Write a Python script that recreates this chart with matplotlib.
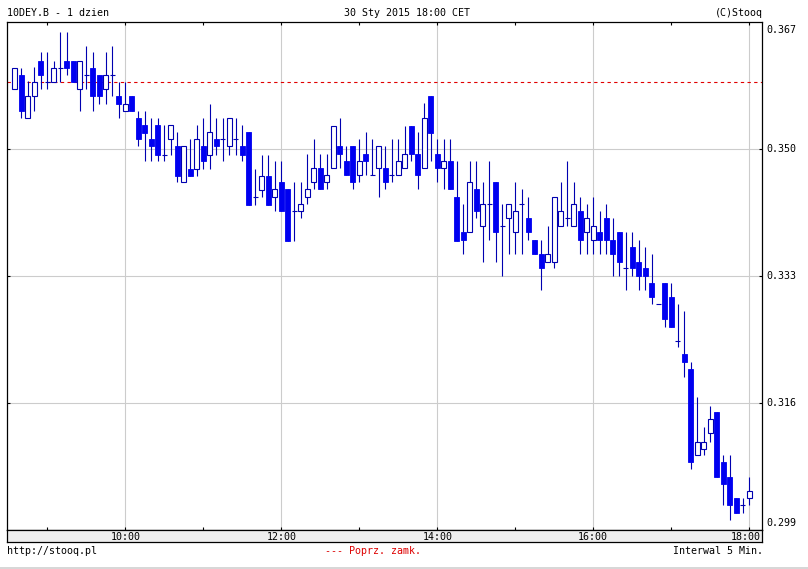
import numpy as np
import matplotlib
matplotlib.use('Agg')
import matplotlib.pyplot as plt
from matplotlib.lines import Line2D

#%% data (5 min candles, 10DEY.B, 30 Sty 2015)

start_time = '08:35'
interval_min = 5

opens = [
    .3580, .3598, .3541, .3570, .3618, .3589, .3589, .3608, .3618, .3618,
    .3580, .3598, .3608, .3598, .3580, .3598, .3570, .3551, .3570, .3541,
    .3532, .3513, .3532, .3492, .3513, .3503, .3455, .3473, .3473, .3503,
    .3492, .3513, .3513, .3503, .3513, .3503, .3522, .3435, .3445, .3464,
    .3435, .3455, .3446, .3416, .3416, .3435, .3455, .3474, .3455, .3474,
    .3503, .3483, .3503, .3465, .3493, .3465, .3474, .3474, .3465, .3465,
    .3474, .3531, .3493, .3474, .3571, .3493, .3474, .3483, .3435, .3388,
    .3388, .3446, .3397, .3426, .3455, .3397, .3407, .3388, .3426, .3407,
    .3378, .3359, .3349, .3349, .3397, .3407, .3397, .3417, .3388, .3378,
    .3388, .3407, .3378, .3388, .3340, .3368, .3349, .3340, .3320, .3292,
    .3320, .3301, .3243, .3225, .3205, .3090, .3098, .3119, .3147, .3080,
    .3061, .3032, .3023, .3032]
highs = [
    .3608, .3608, .3591, .3609, .3630, .3629, .3618, .3656, .3656, .3618,
    .3618, .3637, .3629, .3598, .3629, .3637, .3589, .3589, .3570, .3551,
    .3551, .3541, .3541, .3532, .3532, .3522, .3503, .3513, .3532, .3541,
    .3560, .3541, .3541, .3541, .3541, .3532, .3522, .3473, .3492, .3492,
    .3483, .3483, .3446, .3455, .3455, .3493, .3513, .3493, .3493, .3531,
    .3541, .3503, .3503, .3513, .3522, .3513, .3503, .3503, .3513, .3513,
    .3531, .3531, .3522, .3561, .3571, .3513, .3513, .3513, .3483, .3426,
    .3484, .3484, .3455, .3484, .3455, .3426, .3426, .3455, .3446, .3435,
    .3378, .3378, .3397, .3435, .3455, .3484, .3455, .3435, .3426, .3435,
    .3417, .3426, .3407, .3388, .3388, .3388, .3378, .3368, .3359, .3292,
    .3320, .3320, .3292, .3283, .3214, .3167, .3128, .3156, .3147, .3090,
    .3090, .3032, .3032, .3061]
lows = [
    .3580, .3541, .3541, .3551, .3580, .3580, .3589, .3589, .3598, .3589,
    .3551, .3580, .3551, .3560, .3560, .3570, .3541, .3551, .3551, .3503,
    .3483, .3483, .3483, .3483, .3492, .3455, .3455, .3464, .3464, .3473,
    .3473, .3492, .3483, .3492, .3492, .3483, .3425, .3425, .3435, .3425,
    .3416, .3416, .3377, .3377, .3407, .3426, .3446, .3446, .3446, .3474,
    .3474, .3465, .3446, .3455, .3465, .3465, .3435, .3446, .3455, .3465,
    .3474, .3483, .3446, .3474, .3483, .3455, .3446, .3446, .3377, .3359,
    .3388, .3407, .3349, .3378, .3349, .3330, .3359, .3359, .3359, .3378,
    .3359, .3311, .3349, .3340, .3397, .3397, .3397, .3359, .3359, .3359,
    .3359, .3359, .3330, .3330, .3311, .3330, .3311, .3311, .3292, .3292,
    .3262, .3262, .3234, .3195, .3071, .3090, .3090, .3108, .3061, .3023,
    .3003, .3013, .3013, .3023]
closes = [
    .3608, .3551, .3570, .3589, .3598, .3589, .3608, .3608, .3608, .3589,
    .3618, .3598, .3570, .3570, .3598, .3598, .3560, .3560, .3551, .3513,
    .3521, .3503, .3492, .3492, .3532, .3464, .3503, .3464, .3513, .3483,
    .3522, .3503, .3513, .3541, .3513, .3492, .3425, .3435, .3464, .3425,
    .3446, .3416, .3377, .3416, .3426, .3446, .3474, .3446, .3465, .3531,
    .3493, .3465, .3455, .3483, .3483, .3465, .3503, .3455, .3465, .3483,
    .3493, .3493, .3465, .3541, .3521, .3474, .3483, .3446, .3377, .3378,
    .3455, .3417, .3426, .3426, .3388, .3397, .3426, .3417, .3426, .3388,
    .3359, .3340, .3359, .3435, .3417, .3407, .3426, .3378, .3407, .3397,
    .3378, .3378, .3359, .3349, .3340, .3340, .3330, .3330, .3301, .3292,
    .3272, .3262, .3243, .3214, .3080, .3108, .3108, .3138, .3061, .3051,
    .3023, .3013, .3023, .3042]

prev_close = 0.3589

price_grid = [0.350, 0.333, 0.316]
price_labels = ['0.367', '0.350', '0.333', '0.316', '0.299']
hour_ticks = ['09:00', '10:00', '11:00', '12:00', '13:00', '14:00', '15:00', '16:00', '17:00', '18:00']
hour_labels = ['10:00', '12:00', '14:00', '16:00', '18:00']

#%% helpers

def to_min(s):
    hh, mm = s.split(':')
    return int(hh) * 60 + int(mm)

W, H = 808, 569
def box(x0, y0, x1, y1):
    # pixel box (from top left) -> figure fraction
    return [x0 / W, 1 - y1 / H, (x1 - x0) / W, (y1 - y0) / H]

o = np.array(opens); h = np.array(highs); l = np.array(lows); c = np.array(closes)
t = to_min(start_time) + interval_min * np.arange(len(o))

xlim = (509.2, 1089.8)
ylim = (0.29892, 0.36692)

blue = '#0000f0'
navy = '#0000b0'
grid_col = '#cccccc'
font = dict(family='DejaVu Sans Mono', size=7.2, color='black')

#%% main plot

fig = plt.figure(figsize=(W / 100, H / 100), dpi=100)
fig.patch.set_facecolor('white')

ax = fig.add_axes(box(7.3, 22.3, 762, 530.3))
ax.set_xlim(*xlim)
ax.set_ylim(*ylim)

for hl in hour_labels:
    ax.axvline(to_min(hl), color=grid_col, lw=0.8, zorder=0)
for p in price_grid:
    ax.axhline(p, color=grid_col, lw=0.8, zorder=0)

ax.axhline(prev_close, color='#e00000', lw=0.8, dashes=(3, 3), zorder=1)

bw = 3.7
up = c > o
down = c < o
flat = c == o
ax.vlines(t, l, h, color=navy, lw=0.8, zorder=2)
ax.bar(t[down], o[down] - c[down], bottom=c[down], width=bw,
       color=blue, edgecolor=blue, lw=0.6, zorder=3)
ax.bar(t[up], c[up] - o[up], bottom=o[up], width=bw,
       facecolor='white', edgecolor=navy, lw=0.8, zorder=3)
ax.hlines(o[flat], t[flat] - bw / 2, t[flat] + bw / 2, color=navy, lw=0.8, zorder=3)

ax.set_xticks([to_min(s) for s in hour_ticks])
ax.set_yticks(price_grid)
ax.tick_params(axis='both', direction='in', length=2.5, width=0.8,
               top=True, bottom=True, left=True, right=True,
               labelbottom=False, labelleft=False)
for sp in ax.spines.values():
    sp.set_linewidth(0.9)

# right hand price labels (ends pinned to the frame)
ypos = [1 - 8 / 508, None, None, None, 7 / 508]
for lab, yp, p in zip(price_labels, ypos, [None] + price_grid + [None]):
    if yp is None:
        ax.text(1.006, p, lab, transform=ax.get_yaxis_transform(), ha='left', va='center', **font)
    else:
        ax.text(1.006, yp, lab, transform=ax.transAxes, ha='left', va='center', **font)

#%% time bar under the plot

tb = fig.add_axes(box(7.3, 530.3, 762, 542))
tb.set_facecolor('#eeeeee')
tb.set_xlim(*xlim)
tb.set_ylim(0, 1)
tb.set_xticks([]); tb.set_yticks([])
for sp in tb.spines.values():
    sp.set_linewidth(0.9)
for hl in hour_labels:
    if hl == hour_labels[-1]:
        tb.text(0.998, 0.45, hl, transform=tb.transAxes, ha='right', va='center', **font)
    else:
        tb.text(to_min(hl), 0.45, hl, ha='center', va='center', **font)

#%% header and footer texts

def ftext(x, y, s, ha, **kw):
    fig.text(x / W, 1 - y / H, s, ha=ha, va='center', **{**font, **kw})

ftext(7, 13, '10DEY.B - 1 dzien', 'left')
ftext(407, 13, '30 Sty 2015 18:00 CET', 'center')
ftext(763, 13, '(C)Stooq', 'right')
ftext(7, 551, 'http://stooq.pl', 'left')
ftext(373, 551, '--- Poprz. zamk.', 'center', color='#dd0000')
ftext(763, 551, 'Interwal 5 Min.', 'right')

fig.add_artist(Line2D([0, 1], [1 - 567.5 / H] * 2, color='#d0d0d0', lw=1.2, transform=fig.transFigure))

fig.savefig('out.png', dpi=100)
